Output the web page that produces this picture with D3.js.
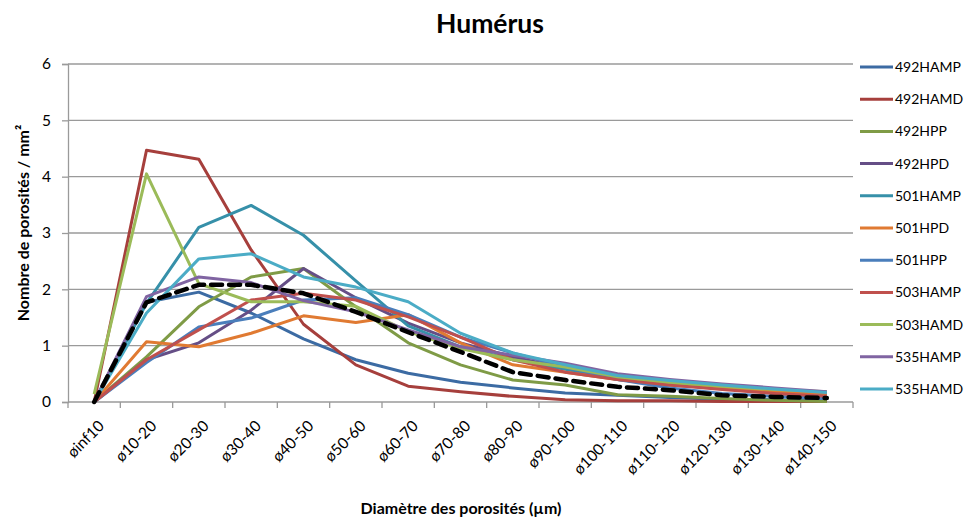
<!DOCTYPE html>
<html>
<head>
<meta charset="utf-8">
<script src="https://cdn.jsdelivr.net/npm/d3@7"></script>
<style>
  html, body { margin: 0; padding: 0; background: #fff; }
  svg { display: block; }
  text { font-family: Lato, "Open Sans", sans-serif; }
</style>
</head>
<body>
<div id="chart"></div>
<script>
// Pore-diameter classes (µm)
const categories = ["øinf10", "ø10-20", "ø20-30", "ø30-40", "ø40-50", "ø50-60", "ø60-70",
  "ø70-80", "ø80-90", "ø90-100", "ø100-110", "ø110-120", "ø120-130", "ø130-140", "ø140-150"];

// Pores per mm² for each sample
const s492HAMP = [0, 1.77, 1.95, 1.58, 1.12, 0.75, 0.51, 0.35, 0.25, 0.16, 0.12, 0.08, 0.05, 0.04, 0.03];
const s492HAMD = [0, 4.47, 4.31, 2.70, 1.38, 0.66, 0.28, 0.18, 0.10, 0.04, 0.02, 0.02, 0.01, 0.01, 0.01];
const s492HPP  = [0, 0.80, 1.69, 2.22, 2.37, 1.69, 1.05, 0.66, 0.39, 0.30, 0.13, 0.10, 0.06, 0.03, 0.01];
const s492HPD  = [0, 0.75, 1.05, 1.63, 2.37, 1.85, 1.40, 1.05, 0.80, 0.60, 0.45, 0.35, 0.30, 0.22, 0.15];
const s501HAMP = [0, 1.75, 3.10, 3.49, 2.96, 2.15, 1.35, 0.98, 0.75, 0.58, 0.40, 0.30, 0.25, 0.20, 0.15];
const s501HPD  = [0, 1.07, 0.98, 1.22, 1.53, 1.41, 1.55, 1.05, 0.66, 0.53, 0.40, 0.30, 0.24, 0.19, 0.15];
const s501HPP  = [0, 0.70, 1.33, 1.49, 1.81, 1.85, 1.55, 1.15, 0.87, 0.62, 0.40, 0.25, 0.15, 0.10, 0.06];
const s503HAMP = [0, 0.75, 1.28, 1.81, 1.93, 1.81, 1.51, 1.15, 0.75, 0.53, 0.40, 0.30, 0.22, 0.15, 0.10];
const s503HAMD = [0.14, 4.05, 2.10, 1.78, 1.78, 1.70, 1.25, 0.95, 0.75, 0.62, 0.45, 0.35, 0.28, 0.22, 0.18];
const s535HAMP = [0, 1.87, 2.22, 2.12, 1.80, 1.60, 1.28, 0.98, 0.83, 0.69, 0.50, 0.40, 0.32, 0.25, 0.18];
const s535HAMD = [0, 1.58, 2.54, 2.63, 2.22, 2.04, 1.78, 1.22, 0.87, 0.66, 0.47, 0.38, 0.30, 0.23, 0.17];
// Mean of all samples (dashed)
const meanValues = [0, 1.77, 2.08, 2.08, 1.93, 1.60, 1.24, 0.89, 0.53, 0.39, 0.27, 0.21, 0.12, 0.09, 0.07];

const seriesNames = ["492HAMP", "492HAMD", "492HPP", "492HPD", "501HAMP", "501HPD",
  "501HPP", "503HAMP", "503HAMD", "535HAMP", "535HAMD"];
const seriesValues = [s492HAMP, s492HAMD, s492HPP, s492HPD, s501HAMP, s501HPD,
  s501HPP, s503HAMP, s503HAMD, s535HAMP, s535HAMD];
const seriesColors = ["#3C6BA3", "#A63F3C", "#7F9B46", "#654E86", "#3690A9", "#E07A32",
  "#4A7EBB", "#C0504D", "#9BBB59", "#8064A2", "#4BACC6"];
const yTicks = [0, 1, 2, 3, 4, 5, 6];

const W = 976, H = 519;
const margin = { left: 68, right: 123, top: 64, bottom: 117 };
const plotW = W - margin.left - margin.right;
const plotH = H - margin.top - margin.bottom;

const svg = d3.select("#chart").append("svg").attr("width", W).attr("height", H);
const g = svg.append("g").attr("transform", `translate(${margin.left},${margin.top})`);

const x = d3.scaleBand().domain(categories).range([0, plotW]);
const y = d3.scaleLinear().domain([0, 6]).range([plotH, 0]);
const xc = c => x(c) + x.bandwidth() / 2;

// Horizontal gridlines
g.append("g").selectAll("line").data(yTicks.filter(t => t > 0)).join("line")
  .attr("x1", 0).attr("x2", plotW)
  .attr("y1", d => y(d)).attr("y2", d => y(d))
  .attr("stroke", "#9a9a9a").attr("stroke-width", 1.3);

// Y axis
const yAxis = g.append("g").call(d3.axisLeft(y).tickValues(yTicks).tickSize(6).tickPadding(11).tickFormat(d3.format("d")));
yAxis.select(".domain").attr("stroke", "#9a9a9a").attr("stroke-width", 1.3);
yAxis.selectAll(".tick line").attr("stroke", "#9a9a9a").attr("stroke-width", 1.3);
yAxis.selectAll(".tick text").attr("font-size", 15.5).attr("fill", "#000")
  .attr("font-family", "Lato, 'Open Sans', sans-serif");

// X axis with ticks at band boundaries
const xAxisG = g.append("g").attr("transform", `translate(0,${plotH})`);
xAxisG.append("line").attr("x1", 0).attr("x2", plotW).attr("y1", 0).attr("y2", 0)
  .attr("stroke", "#9a9a9a").attr("stroke-width", 1.3);
const bounds = categories.map(c => x(c)).concat([plotW]);
xAxisG.selectAll("line.tk").data(bounds).join("line").attr("class", "tk")
  .attr("x1", d => d).attr("x2", d => d).attr("y1", 0).attr("y2", 6)
  .attr("stroke", "#9a9a9a").attr("stroke-width", 1.3);
xAxisG.selectAll("text").data(categories).join("text")
  .attr("transform", d => `translate(${xc(d) + 11},${25}) rotate(-45)`)
  .attr("text-anchor", "end")
  .attr("font-size", 15.5)
  .attr("fill", "#000")
  .text(d => d);

// Series lines
const line = d3.line().x((d, i) => xc(categories[i])).y(d => y(d));
seriesValues.forEach((vals, k) => {
  g.append("path").datum(vals)
    .attr("d", line)
    .attr("fill", "none")
    .attr("stroke", seriesColors[k])
    .attr("stroke-width", 3)
    .attr("stroke-linejoin", "round");
});

// Mean line, dashed black
g.append("path").datum(meanValues)
  .attr("d", line)
  .attr("fill", "none")
  .attr("stroke", "#000")
  .attr("stroke-width", 4.5)
  .attr("stroke-dasharray", "11,7")
  .attr("stroke-linecap", "round")
  .attr("stroke-linejoin", "round");

// Title
svg.append("text").attr("x", 490).attr("y", 33).attr("text-anchor", "middle")
  .attr("font-size", 26.5).attr("font-weight", "bold").attr("fill", "#000").text("Humérus");

// Axis titles
svg.append("text").attr("transform", `translate(29,${margin.top + plotH / 2 - 10}) rotate(-90)`)
  .attr("text-anchor", "middle").attr("font-size", 16).attr("font-weight", "bold")
  .attr("fill", "#000").text("Nombre de porosités / mm²");
svg.append("text").attr("x", 461).attr("y", 514).attr("text-anchor", "middle")
  .attr("font-size", 16).attr("font-weight", "bold").attr("fill", "#000")
  .text("Diamètre des porosités (µm)");

// Legend
const legend = svg.append("g").attr("transform", "translate(860,67)");
const lg = legend.selectAll("g").data(seriesNames).join("g")
  .attr("transform", (d, i) => `translate(0,${i * 32.2})`);
lg.append("line").attr("x1", 0).attr("x2", 33).attr("y1", 0).attr("y2", 0)
  .attr("stroke", (d, i) => seriesColors[i]).attr("stroke-width", 3);
lg.append("text").attr("x", 35).attr("y", 5).attr("font-size", 14).attr("fill", "#000").text(d => d);
</script>
</body>
</html>
